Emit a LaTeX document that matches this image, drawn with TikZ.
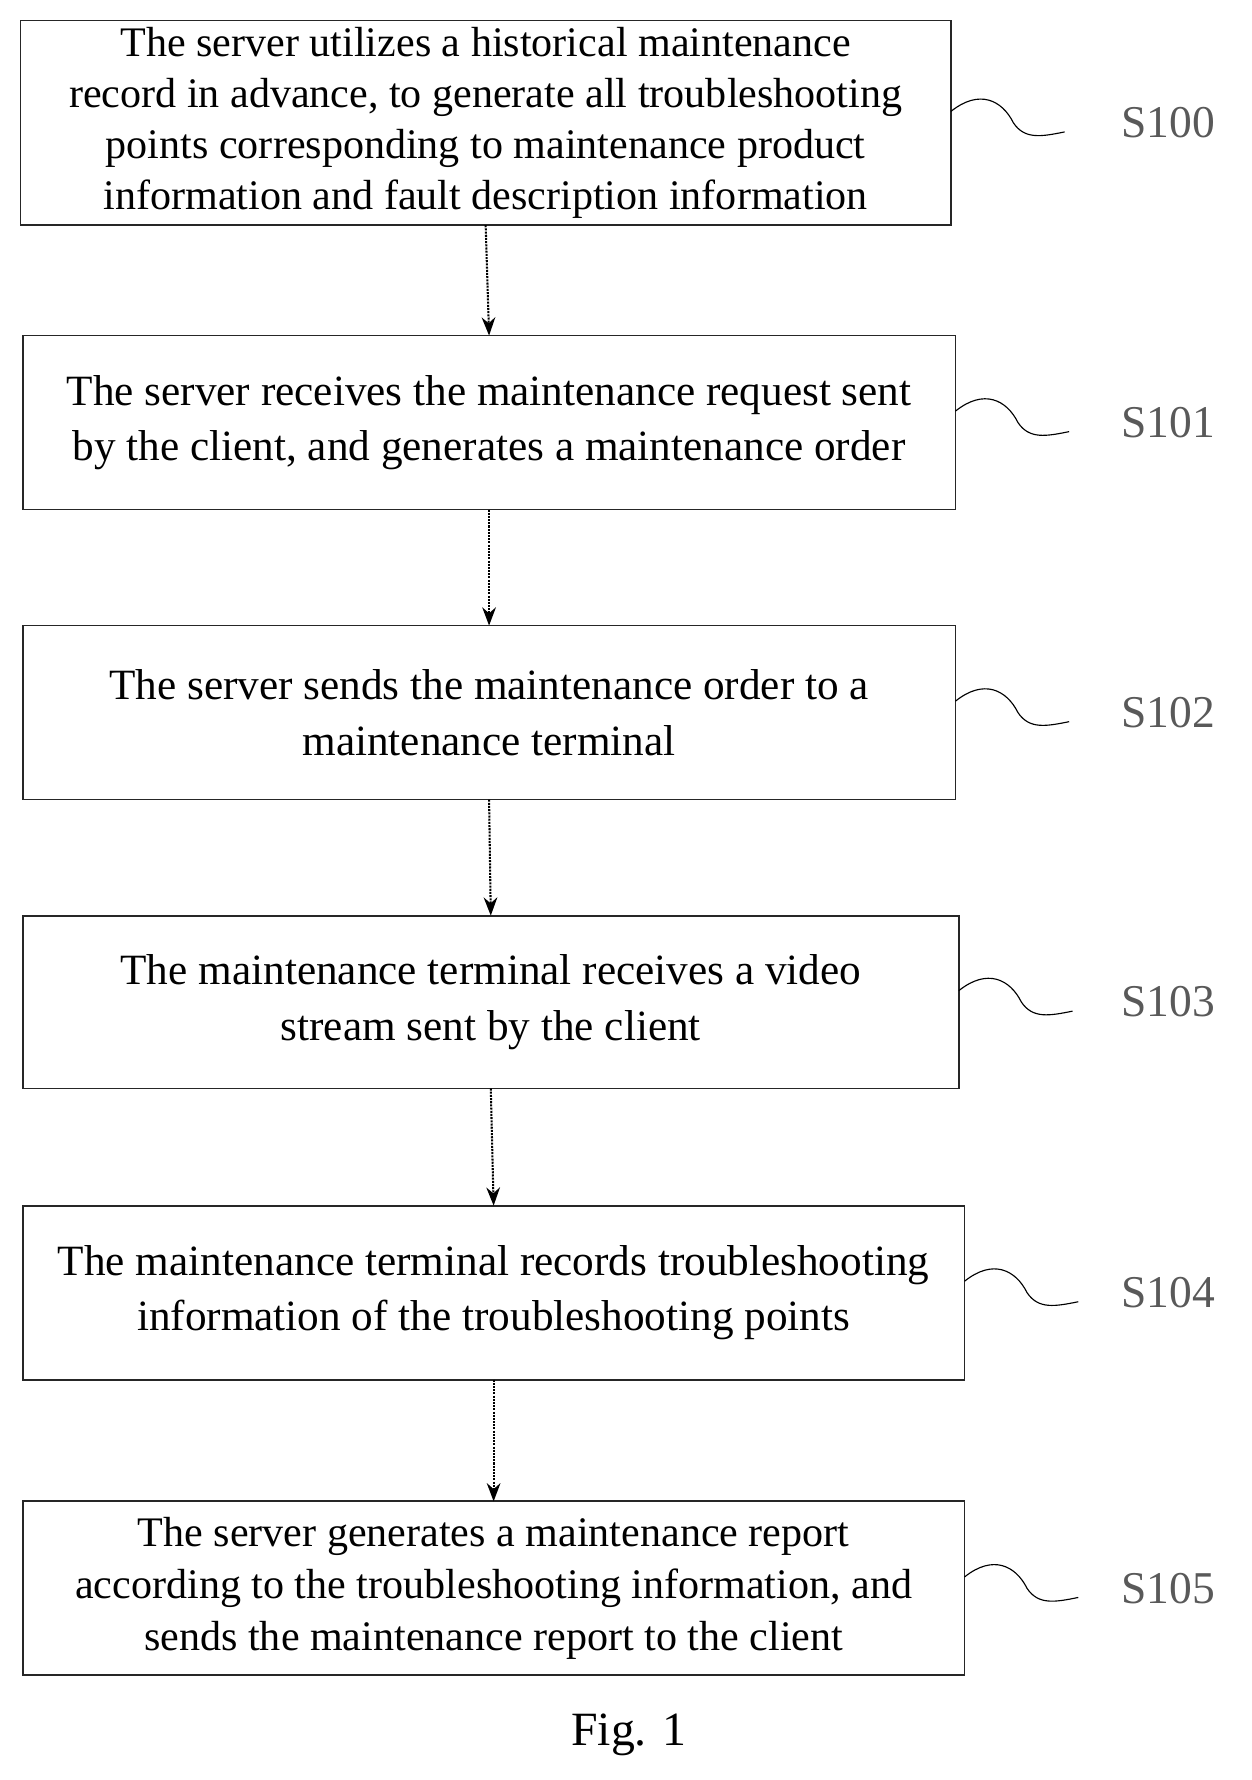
\documentclass[tikz,border=0pt]{standalone}
\usepackage{fontspec}
\setmainfont{Liberation Serif}
\usetikzlibrary{arrows.meta}
\begin{document}
\begin{tikzpicture}[x=1pt,y=-1pt,
  txt/.style={align=center,font=\fontsize{38}{49}\selectfont},
  lab/.style={font=\fontsize{40}{46}\selectfont,text=black!65},
  arr/.style={line width=1.8pt,densely dotted,-{Stealth[length=16pt,width=12pt]}},
  sq/.style={line width=1pt}]
\useasboundingbox (0,0) rectangle (1100,1565);
\def\B#1#2#3#4#5#6#7#8{%
  \draw[line width=1.6pt,black!85] (#2,#3) rectangle (#4,#5);
  \node[txt,#8] (#1) at ({(#2+#4)/2},{(#3+#5)/2}) {#6};
  \coordinate (#1t) at ({(#2+#4)/2},#3);
  \coordinate (#1b) at ({(#2+#4)/2},#5);
  \draw[sq] (#4,{(#3+#5)/2-10}) .. controls ({#4+25},{(#3+#5)/2-30}) and ({#4+45},{(#3+#5)/2-20}) .. ({#4+55},{(#3+#5)/2}) .. controls ({#4+65},{(#3+#5)/2+15}) and ({#4+80},{(#3+#5)/2+12}) .. ({#4+100},{(#3+#5)/2+8});
  \node[lab] (#1l) at (1027,{(#3+#5)/2}) {#7};}
\B{a}{18}{18}{836}{198}{The server utilizes a historical maintenance\\record in advance, to generate all troubleshooting\\points corresponding to maintenance product\\information and fault description information}{S100}{font=\fontsize{37}{45}\selectfont}
\B{b}{20}{295}{840}{448}{The server receives the maintenance request sent\\by the client, and generates a maintenance order}{S101}{}
\B{c}{20}{550}{840}{703}{The server sends the maintenance order to a\\maintenance terminal}{S102}{}
\B{d}{20}{805}{843}{957}{The maintenance terminal receives a video\\stream sent by the client}{S103}{}
\B{e}{20}{1060}{848}{1213}{The maintenance terminal records troubleshooting\\information of the troubleshooting points}{S104}{}
\B{f}{20}{1320}{848}{1473}{The server generates a maintenance report\\according to the troubleshooting information, and\\sends the maintenance report to the client}{S105}{font=\fontsize{37}{46}\selectfont}
\draw[arr] (ab) -- (bt);
\draw[arr] (bb) -- (ct);
\draw[arr] (cb) -- (dt);
\draw[arr] (db) -- (et);
\draw[arr] (eb) -- (ft);
\node[font=\fontsize{42}{48}\selectfont] (fig) at (553,1525) {Fig. 1};
\end{tikzpicture}
\end{document}
